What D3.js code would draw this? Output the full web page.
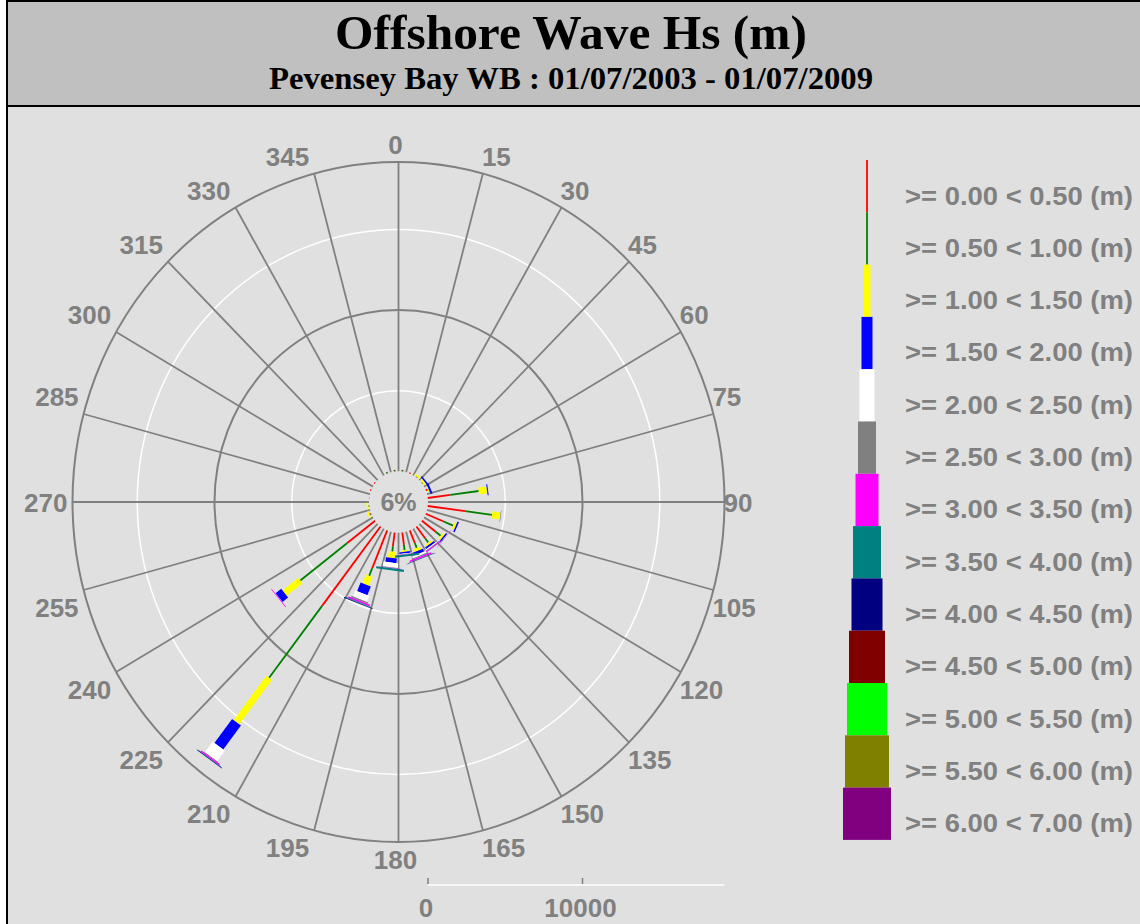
<!DOCTYPE html>
<html><head><meta charset="utf-8">
<script src="https://cdn.jsdelivr.net/npm/d3@7"></script>
<style>
html,body{margin:0;padding:0;background:#fff;}
svg{display:block;}
</style></head>
<body>
<svg id="chart" width="1140" height="924"></svg>
<script>
// ---------------- data ----------------
const titleText = "Offshore Wave Hs (m)";
const subtitleText = "Pevensey Bay WB : 01/07/2003 - 01/07/2009";
const calmLabel = "6%";
const directions = [7.5, 22.5, 37.5, 52.5, 67.5, 82.5, 97.5, 112.5, 127.5, 142.5, 157.5, 172.5,
                    187.5, 202.5, 217.5, 232.5, 247.5, 262.5, 277.5, 292.5, 307.5, 322.5, 337.5, 352.5];
const angleLabels = [0, 15, 30, 45, 60, 75, 90, 105, 120, 135, 150, 165,
                     180, 195, 210, 225, 240, 255, 270, 285, 300, 315, 330, 345];
const classLabels = [">= 0.00 < 0.50 (m)", ">= 0.50 < 1.00 (m)", ">= 1.00 < 1.50 (m)", ">= 1.50 < 2.00 (m)",
                     ">= 2.00 < 2.50 (m)", ">= 2.50 < 3.00 (m)", ">= 3.00 < 3.50 (m)", ">= 3.50 < 4.00 (m)",
                     ">= 4.00 < 4.50 (m)", ">= 4.50 < 5.00 (m)", ">= 5.00 < 5.50 (m)", ">= 5.50 < 6.00 (m)",
                     ">= 6.00 < 7.00 (m)"];
// record counts per direction bin, one array per Hs class
const hs000_050 = [30, 65, 30, 30, 100, 1480, 2450, 1207, 1100, 900, 845, 780, 870, 2530, 6195, 2270, 65, 30, 20, 65, 65, 0, 30, 30];
const hs050_100 = [65, 0, 30, 30, 30, 1845, 1745, 714, 430, 360, 325, 325, 325, 520, 5650, 3830, 50, 30, 0, 0, 0, 0, 65, 65];
const hs100_150 = [0, 0, 100, 130, 65, 540, 545, 156, 160, 130, 195, 100, 390, 585, 3468, 1280, 100, 100, 0, 0, 0, 0, 0, 0];
const hs150_200 = [0, 0, 0, 100, 130, 65, 20, 97, 100, 130, 195, 100, 290, 585, 1883, 455, 0, 0, 0, 0, 0, 0, 0, 0];
const hs200_250 = [0, 0, 0, 0, 0, 0, 0, 0, 20, 65, 130, 30, 290, 390, 825, 10, 0, 0, 0, 0, 0, 0, 0, 0];
const hs250_300 = [0, 0, 0, 0, 0, 0, 0, 0, 10, 30, 65, 20, 30, 100, 40, 10, 0, 0, 0, 0, 0, 0, 0, 0];
const hs300_350 = [0, 0, 0, 0, 0, 0, 0, 0, 10, 65, 100, 20, 30, 100, 80, 40, 0, 0, 0, 0, 0, 0, 0, 0];
const hs350_400 = [0, 0, 0, 0, 0, 0, 0, 0, 0, 20, 30, 130, 130, 45, 30, 0, 0, 0, 0, 0, 0, 0, 0, 0];
const hs400_450 = [0, 0, 0, 0, 0, 0, 0, 0, 0, 0, 20, 0, 0, 45, 40, 0, 0, 0, 0, 0, 0, 0, 0, 0];
const hs450_500 = [0, 0, 0, 0, 0, 0, 0, 0, 0, 0, 0, 0, 0, 0, 0, 0, 0, 0, 0, 0, 0, 0, 0, 0];
const hs500_550 = [0, 0, 0, 0, 0, 0, 0, 0, 0, 0, 0, 0, 0, 0, 0, 0, 0, 0, 0, 0, 0, 0, 0, 0];
const hs550_600 = [0, 0, 0, 0, 0, 0, 0, 0, 0, 0, 0, 0, 0, 0, 0, 0, 0, 0, 0, 0, 0, 0, 0, 0];
const hs600_700 = [0, 0, 0, 0, 0, 0, 0, 0, 0, 0, 0, 0, 0, 0, 0, 0, 0, 0, 0, 0, 0, 0, 0, 0];
const ringValues = [5000, 10000, 15000];
const scaleTicks = [0, 10000];

// ---------------- styles ----------------
const classColors = ["#ff0000", "#008000", "#ffff00", "#0000ff", "#ffffff", "#808080", "#ff00ff",
                     "#008080", "#000080", "#800000", "#00ff00", "#808000", "#800080"];
const classWidths = [1.8, 1.8, 7, 11, 15, 18, 23, 28, 31, 36, 40, 44, 48];
const series = [hs000_050, hs050_100, hs100_150, hs150_200, hs200_250, hs250_300, hs300_350,
                hs350_400, hs400_450, hs450_500, hs500_550, hs550_600, hs600_700];

const cx = 398.5, cy = 502, outerR = 326, k = 340 / 326, r0 = 29.5;
const r = d3.scaleLinear().domain([0, 10000]).range([r0, r0 + 154.5]);
const labelFont = "'Liberation Sans', Arial, sans-serif";
const grey = "#808080";

const svg = d3.select("#chart");

function pt(theta, rad) {
  const a = theta * Math.PI / 180;
  return [cx + rad * Math.sin(a), cy - rad * k * Math.cos(a)];
}
function seg(theta, r1, r2, w) {
  const a = theta * Math.PI / 180;
  const p1 = pt(theta, r1), p2 = pt(theta, r2);
  let dx = Math.sin(a), dy = -k * Math.cos(a);
  const L = Math.hypot(dx, dy); dx /= L; dy /= L;
  const nx = -dy * w / 2, ny = dx * w / 2;
  return [[p1[0] + nx, p1[1] + ny], [p2[0] + nx, p2[1] + ny], [p2[0] - nx, p2[1] - ny], [p1[0] - nx, p1[1] - ny]];
}

// frame
svg.append("rect").attr("x", 7).attr("y", 1).attr("width", 1160).attr("height", 960)
  .attr("fill", "#e0e0e0").attr("stroke", "#000").attr("stroke-width", 2);
svg.append("rect").attr("x", 7).attr("y", 1).attr("width", 1160).attr("height", 105)
  .attr("fill", "#c0c0c0").attr("stroke", "#000").attr("stroke-width", 2);

svg.append("text").attr("x", 571).attr("y", 49).attr("text-anchor", "middle")
  .attr("font-family", "'Liberation Serif', 'Times New Roman', serif").attr("font-weight", "bold")
  .attr("font-size", 49).attr("textLength", 472).attr("lengthAdjust", "spacingAndGlyphs")
  .attr("fill", "#000").text(titleText);
svg.append("text").attr("x", 571).attr("y", 89).attr("text-anchor", "middle")
  .attr("font-family", "'Liberation Serif', 'Times New Roman', serif").attr("font-weight", "bold")
  .attr("font-size", 32).attr("textLength", 604).attr("lengthAdjust", "spacingAndGlyphs")
  .attr("fill", "#000").text(subtitleText);

// rings
const g = svg.append("g");
g.append("ellipse").attr("cx", cx).attr("cy", cy).attr("rx", outerR).attr("ry", outerR * k)
  .attr("fill", "none").attr("stroke", grey).attr("stroke-width", 2);
ringValues.forEach((v, i) => {
  g.append("ellipse").attr("cx", cx).attr("cy", cy).attr("rx", r(v)).attr("ry", r(v) * k)
    .attr("fill", "none").attr("stroke", i % 2 === 0 ? "#ffffff" : grey).attr("stroke-width", i % 2 === 0 ? 1.5 : 2);
});
// spokes
angleLabels.forEach(a => {
  const p1 = pt(a, r0), p2 = pt(a, outerR);
  g.append("line").attr("x1", p1[0]).attr("y1", p1[1]).attr("x2", p2[0]).attr("y2", p2[1])
    .attr("stroke", grey).attr("stroke-width", 1.8);
});
// angle labels
angleLabels.forEach(a => {
  const [px, py] = pt(a, outerR);
  const s = Math.sin(a * Math.PI / 180), c = Math.cos(a * Math.PI / 180);
  let anchor, x, y;
  if (Math.abs(s) < 0.01) { anchor = "middle"; x = px - 3; }
  else if (s > 0) { anchor = "start"; x = px - 1; }
  else { anchor = "end"; x = px - 5; }
  if (Math.abs(c) < 0.01) y = py + 10;
  else if (c > 0) y = py - 8;
  else y = py + 27;
  g.append("text").attr("x", x).attr("y", y).attr("text-anchor", anchor)
    .attr("font-family", labelFont).attr("font-weight", "bold").attr("font-size", 26)
    .attr("fill", grey).text(a);
});

// bars
const bars = svg.append("g");
directions.forEach((d, i) => {
  let cum = 0;
  series.forEach((s, j) => {
    const v = s[i];
    if (v > 0) {
      const ra = r(cum), rb = r(cum + v);
      bars.append("polygon").attr("points", seg(d, ra, rb, classWidths[j]).map(p => p.join(",")).join(" "))
        .attr("fill", classColors[j]);
    }
    cum += v;
  });
});

// calm label
svg.append("text").attr("x", cx).attr("y", cy + 9).attr("text-anchor", "middle")
  .attr("font-family", labelFont).attr("font-weight", "bold").attr("font-size", 25)
  .attr("fill", grey).text(calmLabel);

// legend
const lg = svg.append("g");
const lx = 867, ly0 = 160, lh = 52.3;
classLabels.forEach((lab, i) => {
  lg.append("rect").attr("x", lx - classWidths[i] / 2).attr("y", ly0 + i * lh)
    .attr("width", classWidths[i]).attr("height", lh).attr("fill", classColors[i]);
  lg.append("text").attr("x", 905).attr("y", ly0 + i * lh + 44.5)
    .attr("font-family", labelFont).attr("font-weight", "bold").attr("font-size", 26)
    .attr("textLength", 228).attr("lengthAdjust", "spacingAndGlyphs")
    .attr("fill", grey).text(lab);
});

// scale bar
const sy = 885;
svg.append("line").attr("x1", cx + r(0)).attr("x2", cx + outerR).attr("y1", sy).attr("y2", sy)
  .attr("stroke", "#f6f6f6").attr("stroke-width", 2);
scaleTicks.forEach(t => {
  svg.append("line").attr("x1", cx + r(t)).attr("x2", cx + r(t)).attr("y1", 878).attr("y2", 884)
    .attr("stroke", grey).attr("stroke-width", 1.5);
  svg.append("text").attr("x", cx + r(t) - 2).attr("y", 917).attr("text-anchor", "middle")
    .attr("font-family", labelFont).attr("font-weight", "bold").attr("font-size", 26)
    .attr("fill", grey).text(t);
});
</script>
</body></html>
